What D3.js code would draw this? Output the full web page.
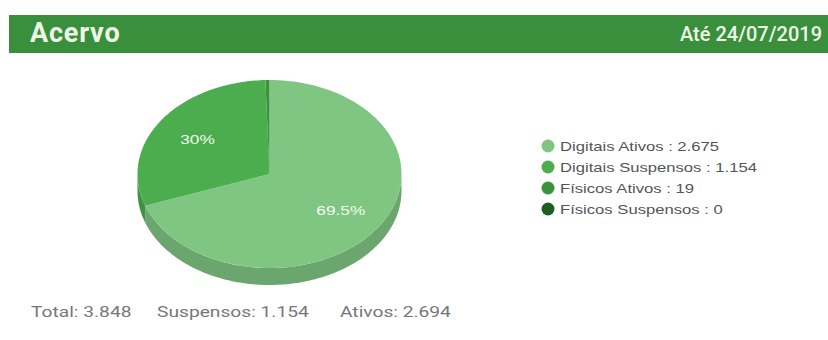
<!DOCTYPE html>
<html lang="pt">
<head>
<meta charset="UTF-8">
<script src="https://d3js.org/d3.v7.min.js"></script>
<title>Acervo</title>
<style>
  body { margin: 0; background: #fff; }
</style>
</head>
<body>
<svg id="chart" width="828" height="340"></svg>
<script>
// data
const categories = ["Digitais Ativos", "Digitais Suspensos", "Físicos Ativos", "Físicos Suspensos"];
const values = [2675, 1154, 19, 0];
const suspended = [false, true, false, true];
const colors = ["#80c683", "#4cad4e", "#3a923d", "#1e5e22"];
const title = "Acervo";
const dateLabel = "Até 24/07/2019";

const ptBR = d3.formatLocale({decimal: ",", thousands: ".", grouping: [3], currency: ["R$", ""]});
const num = ptBR.format(",d");
const pct = d3.format(".1~f");

const svg = d3.select("#chart");
// the screenshot is a bit stretched sideways, so text gets a horizontal scale
const stretch = 1.28;

// header bar
svg.append("rect")
    .attr("x", 9).attr("y", 15).attr("width", 819).attr("height", 38)
    .attr("fill", "#3a8f3c");
svg.append("text")
    .attr("x", 30).attr("y", 42)
    .attr("style", "font-family: Roboto; font-weight: bold; font-size: 27px; letter-spacing: 0.8px; fill: #eef7e6;")
    .text(title);
svg.append("text")
    .attr("x", 822).attr("y", 41)
    .attr("text-anchor", "end")
    .attr("style", "font-family: Roboto; font-weight: 500; font-size: 20px; fill: #eef7e6;")
    .text(dateLabel);

// 3d pie
const cx = 269.5, cy = 174, rx = 132, ry = 94, depth = 17;
const total = d3.sum(values);
const color = d3.scaleOrdinal().domain(categories).range(colors);
const pie = d3.pie().sort(null).value(d => d.v);
const arcs = pie(categories.map((c, i) => ({c: c, v: values[i]})));

function pt(a, dy) {
    return [cx + rx * Math.sin(a), cy - ry * Math.cos(a) + (dy || 0)];
}

function topPath(d) {
    const p = d3.path();
    p.moveTo(cx, cy);
    const n = Math.max(2, Math.ceil((d.endAngle - d.startAngle) / 0.02));
    for (let k = 0; k <= n; k++) {
        const a = d.startAngle + (d.endAngle - d.startAngle) * k / n;
        const q = pt(a);
        p.lineTo(q[0], q[1]);
    }
    p.closePath();
    return p.toString();
}

function sidePath(d) {
    const s = Math.max(d.startAngle, Math.PI / 2);
    const e = Math.min(d.endAngle, Math.PI * 1.5);
    if (e <= s) return null;
    const n = Math.max(2, Math.ceil((e - s) / 0.02));
    const p = d3.path();
    for (let k = 0; k <= n; k++) {
        const q = pt(s + (e - s) * k / n);
        if (k === 0) p.moveTo(q[0], q[1]); else p.lineTo(q[0], q[1]);
    }
    for (let k = n; k >= 0; k--) {
        const q = pt(s + (e - s) * k / n, depth);
        p.lineTo(q[0], q[1]);
    }
    p.closePath();
    return p.toString();
}

const g = svg.append("g");
g.selectAll("path.side")
    .data(arcs.filter(d => d.value > 0 && sidePath(d)))
    .join("path")
    .attr("class", "side")
    .attr("d", sidePath)
    .attr("fill", d => d3.color(color(d.data.c)).darker(0.5));

g.selectAll("path.top")
    .data(arcs.filter(d => d.value > 0))
    .join("path")
    .attr("class", "top")
    .attr("d", topPath)
    .attr("fill", d => color(d.data.c));

g.selectAll("text.lbl")
    .data(arcs.filter(d => d.value / total > 0.05))
    .join("text")
    .attr("class", "lbl")
    .attr("transform", d => {
        const m = (d.startAngle + d.endAngle) / 2;
        const x = cx + rx * 0.66 * Math.sin(m);
        const y = cy - ry * 0.66 * Math.cos(m) + 5;
        return `translate(${x},${y}) scale(${stretch},1)`;
    })
    .attr("text-anchor", "middle")
    .attr("style", "font-family: 'Liberation Sans', Arial; font-size: 13.5px; fill: #f4fbf0;")
    .text(d => pct(d.value / total * 100) + "%");

// legend
const legend = svg.append("g").attr("transform", "translate(548,146)");
const items = legend.selectAll("g")
    .data(categories)
    .join("g")
    .attr("transform", (d, i) => `translate(0,${i * 21})`);
items.append("circle")
    .attr("r", 6.5)
    .attr("fill", d => color(d));
items.append("text")
    .attr("transform", `translate(12,4.5) scale(${stretch},1)`)
    .attr("style", "font-family: 'Liberation Sans', Arial; font-size: 13px; fill: #555;")
    .text((d, i) => d + " : " + num(values[i]));

// totals
const susp = d3.sum(values.filter((v, i) => suspended[i]));
const ativ = d3.sum(values.filter((v, i) => !suspended[i]));
const totals = [["Total", total, 31], ["Suspensos", susp, 157], ["Ativos", ativ, 340]];
svg.selectAll("text.tot")
    .data(totals)
    .join("text")
    .attr("class", "tot")
    .attr("transform", d => `translate(${d[2]},317) scale(${stretch},1)`)
    .attr("style", "font-family: Roboto; font-size: 15px; fill: #777;")
    .text(d => d[0] + ": " + num(d[1]));
</script>
</body>
</html>
